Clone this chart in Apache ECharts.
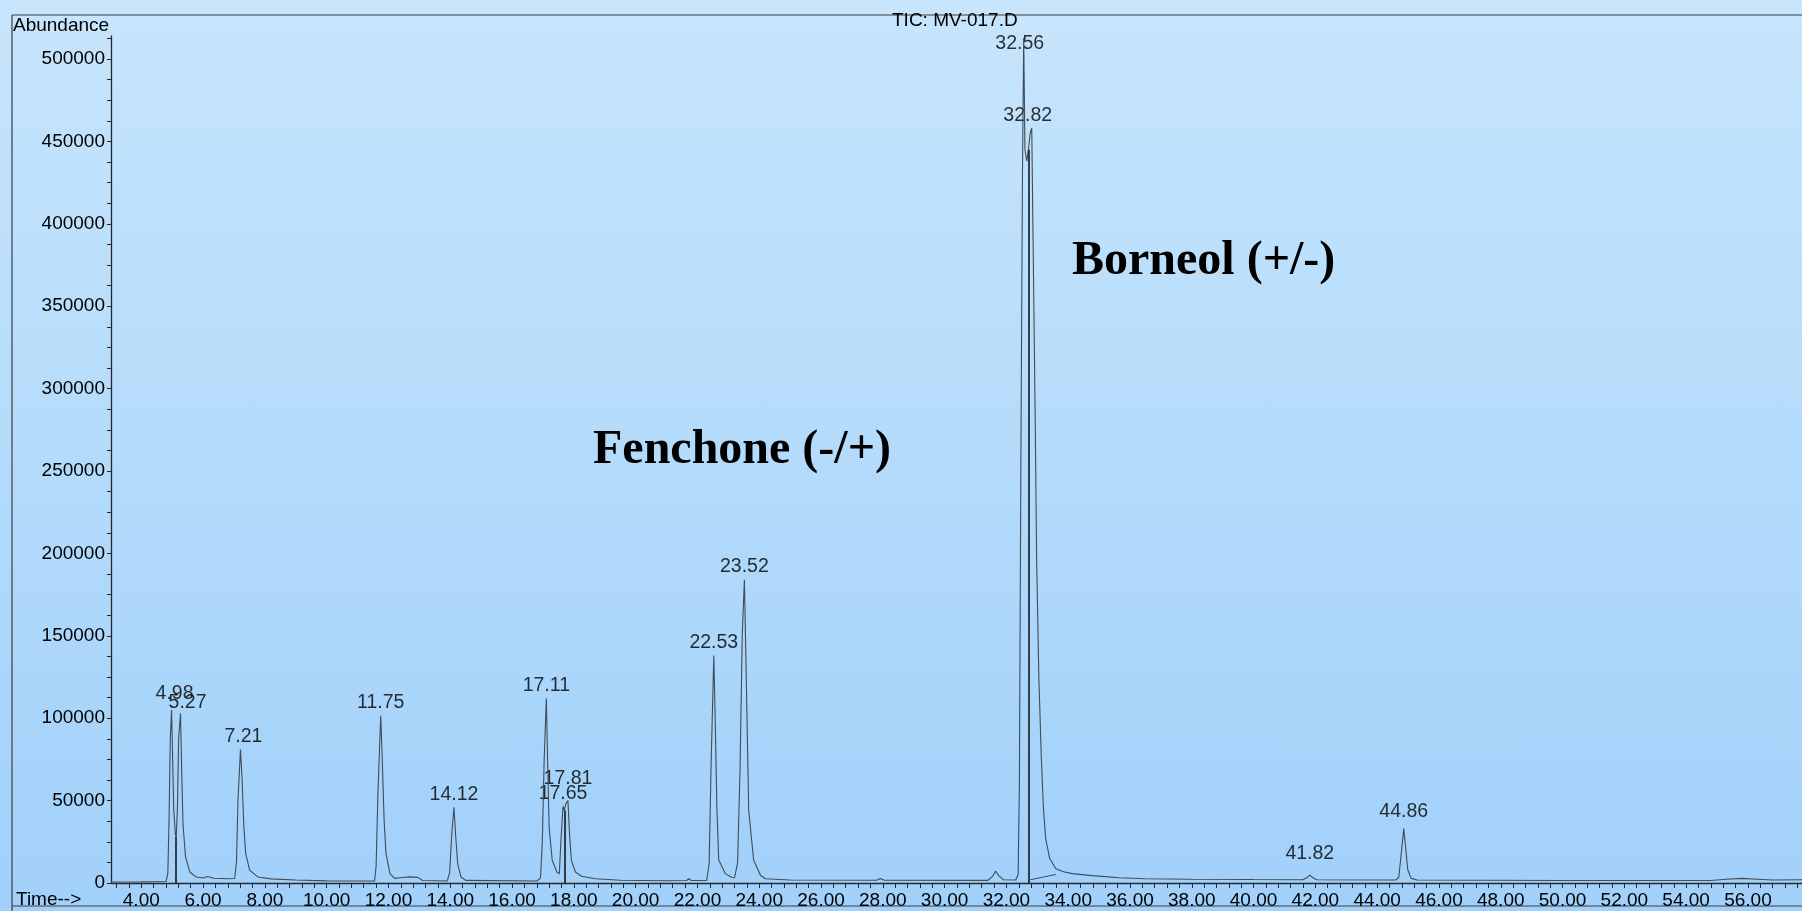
<!DOCTYPE html>
<html>
<head>
<meta charset="utf-8">
<title>TIC: MV-017.D</title>
<script src="https://cdn.jsdelivr.net/npm/echarts@6/dist/echarts.min.js"></script>
<style>
  html, body { margin: 0; padding: 0; }
  body {
    width: 1802px; height: 911px; overflow: hidden;
    background: linear-gradient(to bottom, #c7e5fc 0%, #b6dcfb 45%, #a1d0fa 100%);
  }
  #chart { width: 1802px; height: 911px; }
</style>
</head>
<body>
<div id="chart"></div>
<script>
// Total ion chromatogram: retention time (min) vs abundance
const trace = [
  [3.02, 600], [4.00, 700], [4.80, 900], [4.86, 6000], [4.90, 40000], [4.94, 88000],
  [4.98, 105000], [5.01, 80000], [5.05, 45000], [5.10, 30000], [5.13, 28000],
  [5.17, 45000], [5.21, 88000], [5.27, 103000], [5.31, 66000], [5.35, 36000],
  [5.43, 16000], [5.57, 6700], [5.78, 3600], [6.00, 3000], [6.15, 3900], [6.35, 2900],
  [6.80, 2600], [7.02, 2700], [7.08, 12000], [7.13, 50000], [7.21, 81000], [7.26, 64000],
  [7.32, 34000], [7.38, 17800], [7.51, 7700], [7.78, 3600], [8.20, 2500], [9.00, 1800],
  [10.00, 1300], [11.00, 1200], [11.55, 1300], [11.60, 10000], [11.66, 55000],
  [11.75, 101500], [11.80, 74500], [11.86, 38000], [11.92, 17800], [12.05, 5700],
  [12.20, 2800], [12.45, 3300], [12.70, 3700], [12.95, 3400], [13.10, 1500],
  [13.90, 1200], [13.98, 6000], [14.05, 30000], [14.12, 46000], [14.17, 30000],
  [14.24, 11800], [14.35, 3600], [14.50, 1600], [16.80, 1200], [16.92, 3000],
  [16.98, 25000], [17.04, 75000], [17.11, 112000], [17.15, 74500], [17.20, 34000],
  [17.30, 13800], [17.45, 6700], [17.53, 5500], [17.58, 25000], [17.65, 46500],
  [17.69, 44000], [17.74, 48000], [17.81, 50000], [17.86, 30000], [17.92, 13800],
  [18.05, 6700], [18.25, 4100], [18.70, 2600], [19.50, 1700], [21.00, 1400],
  [21.65, 1500], [21.72, 2600], [21.80, 1500], [22.30, 1500], [22.38, 12000],
  [22.44, 70000], [22.53, 138000], [22.58, 95000], [22.63, 45000], [22.69, 14000],
  [22.90, 5700], [23.12, 3300], [23.20, 3200], [23.30, 12000], [23.38, 70000],
  [23.45, 150000], [23.52, 184000], [23.57, 135000], [23.66, 44000], [23.82, 13800],
  [24.04, 4700], [24.20, 2600], [25.00, 1800], [27.80, 1700], [27.92, 2800],
  [28.05, 1700], [31.40, 1600], [31.55, 4000], [31.65, 7300], [31.75, 4500],
  [31.90, 2000], [32.30, 1800], [32.38, 5000], [32.42, 60000], [32.47, 260000],
  [32.52, 430000], [32.56, 513000], [32.60, 445000], [32.66, 438000], [32.71, 445000],
  [32.77, 455000], [32.82, 458000], [32.87, 380000], [32.93, 285000], [32.98, 195000],
  [33.05, 125000], [33.13, 76000], [33.20, 45000], [33.27, 27000], [33.40, 15000],
  [33.60, 8700], [33.85, 6800], [34.13, 5700], [34.78, 4500], [35.65, 3200],
  [36.50, 2600], [38.00, 2300], [40.00, 2100], [41.60, 2000], [41.72, 3200],
  [41.82, 4800], [41.92, 3200], [42.05, 2000], [44.60, 1800], [44.70, 3500],
  [44.78, 18000], [44.86, 33000], [44.92, 22000], [44.99, 8000], [45.10, 2800],
  [45.30, 1800], [50.00, 1500], [54.80, 1500], [55.30, 2300], [55.80, 2800],
  [56.30, 2300], [56.80, 1800], [57.75, 2000]
];

// Integrated peaks: retention time labels and apex abundance
const peakTimes   = [4.98, 5.27, 7.21, 11.75, 14.12, 17.11, 17.65, 17.81, 22.53, 23.52, 32.56, 32.82, 41.82, 44.86];
const peakHeights = [105000, 103000, 81000, 101500, 46000, 112000, 46500, 50000, 138000, 184000, 513000, 458000, 4800, 33000];

// Valley drop lines: time and valley height
const dropTimes   = [5.13, 17.69, 32.71];
const dropHeights = [28000, 44000, 445000];

// Axis tick labels
const timeTicks = [4, 6, 8, 10, 12, 14, 16, 18, 20, 22, 24, 26, 28, 30, 32, 34, 36, 38, 40, 42, 44, 46, 48, 50, 52, 54, 56];
const abundanceTicks = [0, 50000, 100000, 150000, 200000, 250000, 300000, 350000, 400000, 450000, 500000];

const TIME_MIN = 3.02, TIME_MAX = 57.75, ABUND_MAX = 514000;

// minor time ticks every 0.4 min
const timeMinorTicks = [];
for (let k = -2; ; k++) {
  const v = +(4 + 0.4 * k).toFixed(2);
  if (v > TIME_MAX) break;
  if (v >= TIME_MIN) timeMinorTicks.push(v);
}
// minor abundance ticks every 12500
const abundanceMinorTicks = [];
for (let v = 0; v <= ABUND_MAX; v += 12500) abundanceMinorTicks.push(v);

const FONT = "'Liberation Sans', Arial, sans-serif";

// a few labels are staggered so neighbouring retention times stay readable
const labelNudge = {
  '4.98': [3, -3], '5.27': [7, 2], '7.21': [3, 0], '17.81': [0, -9],
  '32.56': [-4, 19], '32.82': [-4, 0], '41.82': [0, -8], '44.86': [0, -4]
};

const peakData = peakTimes.map((t, i) => {
  const key = t.toFixed(2);
  const item = { value: [t, peakHeights[i]] };
  if (labelNudge[key]) item.label = { offset: labelNudge[key] };
  return item;
});

const dropLines = dropTimes.map((t, i) => [{ coord: [t, 0] }, { coord: [t, dropHeights[i]] }]);

const chart = echarts.init(document.getElementById('chart'), null, { renderer: 'canvas' });

const lineColor = '#24282e';

chart.setOption({
  backgroundColor: 'transparent',
  animation: false,
  grid: { left: 111, right: 0, top: 36, bottom: 28, containLabel: false },
  xAxis: [
    {
      type: 'value',
      min: TIME_MIN, max: TIME_MAX,
      axisLine: { show: true, onZero: false, lineStyle: { color: lineColor, width: 1.3 } },
      axisTick: { show: true, inside: false, length: 5, customValues: timeMinorTicks, lineStyle: { color: lineColor, width: 1 } },
      axisLabel: {
        customValues: timeTicks, margin: 8, color: '#000', fontSize: 19, fontFamily: FONT,
        formatter: v => v.toFixed(2)
      },
      splitLine: { show: false }
    }
  ],
  yAxis: [
    {
      type: 'value',
      min: 0, max: ABUND_MAX,
      axisLine: { show: true, lineStyle: { color: lineColor, width: 1.3 } },
      axisTick: { show: true, length: 4, customValues: abundanceMinorTicks, lineStyle: { color: lineColor, width: 1 } },
      axisLabel: {
        customValues: abundanceTicks, margin: 6, color: '#000', fontSize: 19, fontFamily: FONT,
        formatter: v => String(v)
      },
      splitLine: { show: false }
    }
  ],
  series: [
    {
      name: 'TIC',
      type: 'line',
      data: trace,
      showSymbol: false,
      symbol: 'none',
      silent: true,
      lineStyle: { color: '#404b56', width: 1.1 },
      markLine: {
        silent: true,
        symbol: 'none',
        label: { show: false },
        lineStyle: { color: '#15181c', width: 1.6, type: 'solid' },
        data: dropLines.concat([
          [{ coord: [32.78, 2000], lineStyle: { color: '#404b56', width: 1 } }, { coord: [33.60, 5200] }]
        ])
      }
    },
    {
      name: 'Peaks',
      type: 'scatter',
      data: peakData,
      symbolSize: 0,
      silent: true,
      label: {
        show: true,
        position: 'top',
        distance: 3,
        color: '#000',
        fontSize: 19.5,
        fontFamily: FONT,
        formatter: p => p.value[0].toFixed(2)
      }
    }
  ],
  graphic: [
    // page frame
    { type: 'line', shape: { x1: 12, y1: 15, x2: 1802, y2: 15 }, style: { stroke: '#3a3f45', lineWidth: 1.2 }, silent: true },
    { type: 'line', shape: { x1: 12, y1: 15, x2: 12, y2: 911 }, style: { stroke: '#3a3f45', lineWidth: 1.2 }, silent: true },
    { type: 'line', shape: { x1: 12, y1: 906, x2: 1802, y2: 906 }, style: { stroke: '#3a3f45', lineWidth: 1.2 }, silent: true },
    // header texts
    { type: 'text', left: 13, top: 16, style: { text: 'Abundance', fill: '#000', font: "19px 'Liberation Sans', Arial, sans-serif" }, silent: true },
    { type: 'text', left: 892, top: 11, style: { text: 'TIC: MV-017.D', fill: '#000', font: "19px 'Liberation Sans', Arial, sans-serif" }, silent: true },
    { type: 'text', left: 16, top: 890, style: { text: 'Time-->', fill: '#000', font: "19px 'Liberation Sans', Arial, sans-serif" }, silent: true },
    // compound annotations
    { type: 'text', left: 593, top: 427, style: { text: 'Fenchone (-/+)', fill: '#000', font: "bold 48px 'Liberation Serif', 'Times New Roman', serif" }, silent: true },
    { type: 'text', left: 1072, top: 238, style: { text: 'Borneol (+/-)', fill: '#000', font: "bold 48px 'Liberation Serif', 'Times New Roman', serif" }, silent: true }
  ]
});
</script>
</body>
</html>
